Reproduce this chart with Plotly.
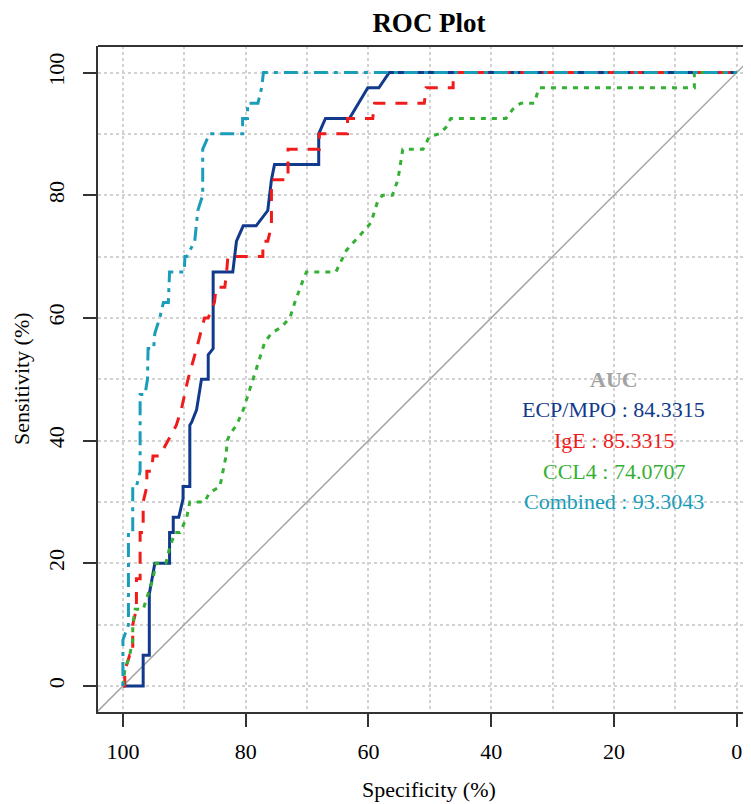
import plotly.graph_objects as go

# ---------------- data ----------------
ecp_spec = [100, 96.7, 96.7, 95.7, 95.7, 94.8, 92.4, 92.4, 91.8, 91.8, 90.9, 90.2, 90.2, 89.1, 89.1,
            88.8, 88.0, 87.2, 86.1, 86.1, 85.3, 85.3, 82.1, 81.5, 80.4, 78.3, 76.4, 75.8, 75.3, 68.1,
            68.1, 67.0, 63.1, 60.1, 58.3, 56.6, 0]
ecp_sens = [0, 0, 5, 5, 15, 20, 20, 25, 25, 27.5, 27.5, 30.5, 32.5, 32.5, 42.5,
            43, 45, 50, 50, 54, 55, 67.5, 67.5, 72.5, 75, 75, 77.5, 82.5, 85, 85,
            90, 92.5, 92.5, 97.5, 97.5, 100, 100]

ige_spec = [100, 99.7, 99.7, 98.9, 98.4, 98.4, 97.8, 97.8, 97.2, 97.2, 96.7, 96.7, 96.1, 96.1, 95.3,
            95.1, 94.0, 92.6, 91.3, 90.5, 89.9, 89.4, 88.0, 86.7, 86.1, 85.1, 84.8, 83.4, 83.1, 82.9,
            77.2, 77.2, 76.4, 75.8, 75.8, 75.3, 73.1, 73.1, 68.0, 68.0, 63.4, 63.4, 59.3, 59.0, 50.9,
            50.6, 46.2, 46.2, 0]
ige_sens = [0, 0, 2.5, 5, 5, 10, 12.5, 17.5, 17.5, 25, 25, 30, 32.5, 35, 35,
            37.5, 37.5, 40, 42.5, 45, 47.5, 50, 55, 60, 60, 62.5, 65, 65, 67.5, 70,
            70, 72.5, 72.5, 75, 82.5, 82.5, 82.5, 87.5, 87.5, 90, 90, 92.5, 92.5, 95, 95,
            97.5, 97.5, 100, 100]

ccl4_spec = [100, 99.7, 98.9, 98.4, 98.4, 98.0, 96.7, 95.9, 95.1, 94.6, 93.0, 92.4, 91.5, 90.7, 89.6,
             89.1, 86.7, 85.9, 84.2, 83.7, 83.2, 83.0, 82.6, 81.5, 80.4, 79.6, 78.8, 78.0, 76.9, 75.8,
             74.2, 72.8, 72.0, 70.9, 70.1, 65.3, 63.6, 60.9, 59.6, 58.5, 57.7, 56.1, 55.2, 54.4, 51.1,
             50.1, 48.5, 47.4, 46.6, 37.6, 36.5, 35.2, 33.0, 32.2, 31.2, 6.9, 6.9, 0]
ccl4_sens = [0, 2.5, 5, 7.5, 10, 12.5, 12.5, 15, 17.5, 20, 20, 22.5, 25, 25, 27.5,
             30, 30, 31.5, 32.5, 35, 37.5, 40, 41, 42.5, 45, 47.5, 50, 52.5, 56, 57.5,
             58.5, 60, 62.5, 65.5, 67.5, 67.5, 71, 74, 75.5, 79, 80, 80, 82.5, 87.5, 87.5,
             89.5, 90, 91, 92.5, 92.5, 94, 95, 95, 97.5, 97.5, 97.5, 100, 100]

comb_spec = [100, 100, 99.1, 99.1, 98.9, 98.4, 98.4, 97.8, 97.2, 97.2, 96.4, 96.0, 95.9, 95.0, 94.8,
             94.0, 93.4, 92.6, 92.4, 90.0, 89.9, 89.6, 88.3, 87.8, 87.0, 87.0, 85.9, 80.5, 80.5, 79.7,
             79.7, 78.0, 77.4, 77.1, 0]
comb_sens = [0, 7.5, 10, 25, 25, 25, 32.5, 32.5, 35, 47.5, 47.5, 50, 55, 55, 57.5,
             60, 62.5, 62.5, 67.5, 67.5, 70, 70, 72.5, 77.5, 80, 87.5, 90, 90, 92.5, 92.5,
             95, 95, 97.5, 100, 100]

chance_spec = [110, -10]
chance_sens = [-10, 110]

series_names = ["ECP/MPO", "IgE", "CCL4", "Combined"]
auc_values = ["84.3315", "85.3315", "74.0707", "93.3043"]
series_colors = ["#123a8c", "#f01c1c", "#35b035", "#1a9db8"]
series_dash = ["solid", "12px,10px", "5px,6px", "4px,6px,14px,6px"]
series_spec = [ecp_spec, ige_spec, ccl4_spec, comb_spec]
series_sens = [ecp_sens, ige_sens, ccl4_sens, comb_sens]

auc_x = 20
auc_y = [45, 40, 35, 30]
auc_header_y = 50

x_ticks = [0, 20, 40, 60, 80, 100]
y_ticks = [0, 20, 40, 60, 80, 100]

# ---------------- figure ----------------
# The page body adds an 8px offset, so the figure is 8px smaller and margins shifted.
OFF = 8
W, H = 751 - OFF, 804 - OFF
L, T = 98 - OFF, 46 - OFF
PW, PH = 653, 666
B = H - T - PH

FONT = "Liberation Serif, Times New Roman, serif"
fig = go.Figure()

fig.add_trace(go.Scatter(x=chance_spec, y=chance_sens, mode="lines",
                         line=dict(color="#a6a6a6", width=1.5), hoverinfo="skip", showlegend=False))

for name, sp, se, col, dsh in zip(series_names, series_spec, series_sens, series_colors, series_dash):
    fig.add_trace(go.Scatter(x=sp, y=se, mode="lines", name=name,
                             line=dict(color=col, width=3, dash=dsh), showlegend=False))

grid_col = "#d2d2d2"
fig.update_layout(
    width=W, height=H,
    margin=dict(l=L, r=0, t=T, b=B),
    plot_bgcolor="white", paper_bgcolor="white",
    font=dict(family=FONT, size=22, color="black"),
    title=dict(text="<b>ROC Plot</b>", font=dict(family=FONT, size=27, color="black"),
               x=(429 - OFF) / W, xref="container", xanchor="center",
               y=1 - (23 - OFF) / H, yref="container", yanchor="middle"),
    xaxis=dict(range=[104.06, -2.33], tickvals=x_ticks, ticks="outside", ticklen=13, tickwidth=2,
               tickcolor="#333", showline=True, linewidth=2, linecolor="#333",
               showgrid=True, gridcolor=grid_col, griddash="dot", gridwidth=1.5,
               minor=dict(dtick=10, tick0=0, showgrid=True, gridcolor=grid_col, griddash="dot",
                          gridwidth=1.5, ticks=""),
               zeroline=False, ticklabelstandoff=6),
    yaxis=dict(range=[-4.24, 104.32], tickvals=y_ticks, ticks="outside", ticklen=13, tickwidth=2,
               tickcolor="#333", showline=True, linewidth=2, linecolor="#333", tickangle=-90,
               showgrid=True, gridcolor=grid_col, griddash="dot", gridwidth=1.5,
               minor=dict(dtick=10, tick0=0, showgrid=True, gridcolor=grid_col, griddash="dot",
                          gridwidth=1.5, ticks=""),
               zeroline=False, ticklabelstandoff=10),
    shapes=[dict(type="line", xref="paper", yref="paper", x0=0, x1=1, y0=1, y1=1,
                 line=dict(color="#333", width=2))],
)

annos = [
    dict(text="Specificity (%)", xref="paper", yref="paper", x=(429 - 98) / PW, y=-(790 - 712) / PH,
         xanchor="center", yanchor="middle", showarrow=False, font=dict(size=22)),
    dict(text="Sensitivity (%)", xref="paper", yref="paper", x=-(98 - 21) / PW, y=0.5,
         xanchor="center", yanchor="middle", textangle=-90, showarrow=False, font=dict(size=22)),
    dict(text="<b>AUC</b>", x=auc_x, y=auc_header_y, xref="x", yref="y", showarrow=False,
         font=dict(size=22, color="#a3a3a3")),
]
for name, val, col, yy in zip(series_names, auc_values, series_colors, auc_y):
    annos.append(dict(text=f"{name} : {val}", x=auc_x, y=yy, xref="x", yref="y", showarrow=False,
                      font=dict(size=22, color=col)))
fig.update_layout(annotations=annos)

fig.write_html("out.html")
